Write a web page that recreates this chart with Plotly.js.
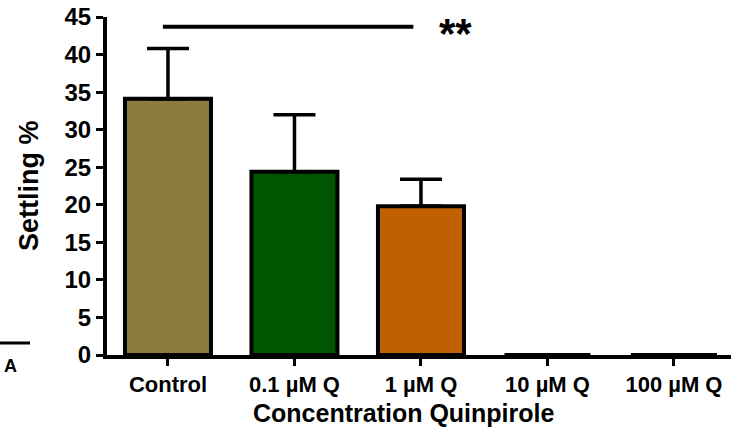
<!DOCTYPE html>
<html>
<head>
<meta charset="utf-8">
<script src="https://cdn.plot.ly/plotly-3.0.1.min.js"></script>
<style>html,body{margin:0;padding:0;background:#fff;}#chart{width:731px;height:444px;}</style>
</head>
<body>
<div id="chart"></div>
<script>
const categories = ["Control", "0.1 µM Q", "1 µM Q", "10 µM Q", "100 µM Q"];
const settling = [34.1, 24.4, 19.8, 0, 0];
const errUpper = [6.7, 7.6, 3.6, 0, 0];
const barColors = ["#8C7B3C", "#005500", "#C06000", "#ffffff", "#ffffff"];
const yTicks = [0, 5, 10, 15, 20, 25, 30, 35, 40, 45];
const sigStart = 0, sigEnd = 2, sigLevel = 43.7, sigLabel = "**";
const xTitle = "Concentration Quinpirole";
const yTitle = "Settling %";
const cornerLabel = "A";

const F = "Liberation Sans, Arial, sans-serif";
const L = 107, T = 17, B = 89;
const W = 731 - L, H = 444 - T - B;
const px = X => (X - L) / W;
const py = Y => (444 - B - Y) / H;

const trace = {
  type: "bar",
  x: [0, 1, 2, 3, 4],
  y: settling,
  width: 0.68,
  marker: {color: barColors, line: {color: "#000", width: 4}},
  error_y: {type: "data", symmetric: false, array: errUpper, arrayminus: [0,0,0,0,0], color: "#000", thickness: 3.5, width: 21, visible: true},
  hoverinfo: "none"
};
const layout = {
  width: 731, height: 444,
  margin: {l: L, r: 0, t: T, b: B, pad: 0},
  paper_bgcolor: "#fff", plot_bgcolor: "#fff",
  showlegend: false,
  xaxis: {
    range: [-0.482, 4.451],
    tickmode: "array", tickvals: [0,1,2,3,4], ticktext: categories,
    showline: true, linecolor: "#000", linewidth: 4,
    ticks: "outside", ticklen: 7, tickwidth: 3, tickcolor: "#000",
    showgrid: false, zeroline: false,
    tickfont: {family: F, size: 22, color: "#000", weight: 700}
  },
  yaxis: {
    range: [0, 45],
    tickmode: "array", tickvals: yTicks,
    showline: true, linecolor: "#000", linewidth: 4,
    ticks: "outside", ticklen: 7, tickwidth: 3, tickcolor: "#000",
    showgrid: false, zeroline: false,
    tickfont: {family: F, size: 24, color: "#000", weight: 700}
  },
  shapes: [
    {type: "line", xref: "x", yref: "y", x0: sigStart - 0.04, x1: sigEnd - 0.06, y0: sigLevel, y1: sigLevel, line: {color: "#000", width: 4}},
    {type: "line", xref: "paper", yref: "paper", x0: px(0), x1: px(30), y0: py(343), y1: py(343), line: {color: "#000", width: 3}}
  ],
  annotations: [
    {xref: "x", yref: "y", x: 2.27, y: sigLevel, text: sigLabel, showarrow: false, font: {family: F, size: 42, color: "#000", weight: 700}, yanchor: "middle", yshift: -7},
    {xref: "paper", yref: "paper", x: px(10), y: py(366), text: cornerLabel, showarrow: false, font: {family: F, size: 18, color: "#000", weight: 700}, xanchor: "center", yanchor: "middle"},
    {xref: "paper", yref: "paper", x: px(403), y: py(413), text: xTitle, showarrow: false, font: {family: F, size: 25, color: "#000", weight: 700}, xanchor: "center", yanchor: "middle"},
    {xref: "paper", yref: "paper", x: px(29), y: py(186), text: yTitle, textangle: -90, showarrow: false, font: {family: F, size: 27, color: "#000", weight: 700}, xanchor: "center", yanchor: "middle"}
  ]
};
Plotly.newPlot("chart", [trace], layout, {staticPlot: true, displayModeBar: false});
</script>
</body>
</html>
